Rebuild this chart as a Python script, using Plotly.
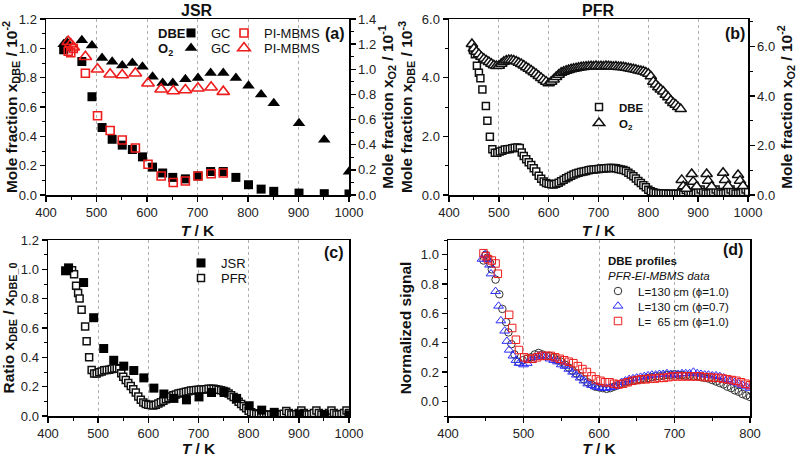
import plotly.graph_objects as go

W, H = 798, 457
FONT = "Liberation Sans, Arial, sans-serif"

# ---------------- Panel (a) JSR ----------------
T_jsr_gc = [435, 441, 471, 491, 511, 531, 551, 571, 591, 611,
            631, 651, 676, 701, 726, 751, 776, 801, 826, 851,
            901, 951, 1000]
dbe_jsr_gc = [0.99, 1.01, 0.91, 0.67, 0.46, 0.38, 0.34, 0.31, 0.26, 0.19,
              0.15, 0.12, 0.11, 0.13, 0.16, 0.16, 0.12, 0.07, 0.04, 0.025,
              0.013, 0.009, 0.007]
o2_jsr_gc = [1.20, 1.22, 1.23, 1.19, 1.09, 1.06, 1.03, 1.05, 1.02, 0.94,
             0.89, 0.89, 0.92, 0.93, 0.97, 0.97, 0.93, 0.87, 0.80, 0.73,
             0.57, 0.44, 0.185]
T_jsr_pi = [444, 449, 454, 478, 502, 527, 551, 577, 602, 628,
            652, 676, 701, 727, 751]
dbe_jsr_pi = [0.98, 0.97, 1.00, 0.83, 0.54, 0.44, 0.375, 0.32, 0.21, 0.13,
              0.085, 0.095, 0.13, 0.145, 0.15]
o2_jsr_pi = [1.22, 1.20, 1.175, 1.10, 1.00, 0.96, 0.955, 0.968, 0.889, 0.841,
             0.827, 0.835, 0.849, 0.857, 0.822]

# ---------------- Panel (b) PFR ----------------
T_pfr_dbe = [448, 452, 456, 460, 463, 467, 474, 477, 482, 487,
             492, 497, 502, 507, 512, 517, 522, 527, 532, 537,
             542, 546, 550, 555, 560, 565, 570, 575, 580, 585,
             590, 595, 600, 605, 610, 615, 620, 625, 630, 635,
             640, 645, 650, 655, 660, 665, 670, 675, 680, 685,
             690, 695, 700, 705, 710, 715, 720, 725, 730, 735,
             740, 745, 750, 755, 760, 765, 770, 775, 780, 785,
             790, 795, 800, 805, 810, 815, 820, 825, 830, 835,
             840, 845, 850, 855, 860, 865, 870, 875, 880, 885,
             890, 895, 900, 905, 910, 915, 920, 925, 930, 935,
             940, 945, 950, 955, 960, 965, 970, 975, 980, 985,
             990, 995, 1000]
dbe_pfr = [4.94, 4.80, 4.41, 4.17, 3.98, 3.60, 3.03, 2.53, 1.99, 1.56,
           1.44, 1.44, 1.48, 1.51, 1.55, 1.56, 1.57, 1.59, 1.61, 1.62,
           1.60, 1.45, 1.33, 1.22, 1.12, 1.02, 0.91, 0.80, 0.66, 0.55,
           0.46, 0.41, 0.38, 0.37, 0.36, 0.38, 0.42, 0.47, 0.52, 0.57,
           0.61, 0.66, 0.70, 0.73, 0.76, 0.78, 0.80, 0.82, 0.84, 0.86,
           0.87, 0.88, 0.89, 0.90, 0.90, 0.91, 0.92, 0.92, 0.92, 0.91,
           0.89, 0.87, 0.85, 0.82, 0.76, 0.70, 0.64, 0.56, 0.48, 0.41,
           0.33, 0.26, 0.18, 0.13, 0.09, 0.07, 0.06, 0.05, 0.05, 0.05,
           0.04, 0.04, 0.04, 0.04, 0.04, 0.05, 0.08, 0.17, 0.10, 0.05,
           0.05, 0.06, 0.10, 0.19, 0.10, 0.05, 0.05, 0.06, 0.10, 0.19,
           0.10, 0.05, 0.05, 0.06, 0.10, 0.19, 0.10, 0.05, 0.05, 0.06,
           0.10, 0.19, 0.10]
T_pfr_o2 = [446, 450, 455, 460, 465, 470, 475, 480, 485, 490,
            495, 500, 505, 510, 515, 520, 525, 530, 535, 540,
            545, 550, 555, 560, 565, 570, 575, 580, 585, 590,
            595, 600, 605, 610, 615, 620, 625, 630, 635, 640,
            645, 650, 655, 660, 665, 670, 675, 680, 685, 690,
            695, 700, 705, 710, 715, 720, 725, 730, 735, 740,
            745, 750, 755, 760, 765, 770, 775, 780, 785, 790,
            795, 800, 805, 810, 815, 820, 825, 830, 835, 840,
            845, 850, 855, 860, 865, 867, 870, 876, 887, 890,
            897, 917, 920, 927, 950, 954, 960, 980, 984, 990]
o2_pfr = [6.10, 5.92, 5.79, 5.69, 5.58, 5.50, 5.43, 5.37, 5.30, 5.24,
          5.21, 5.22, 5.30, 5.38, 5.43, 5.45, 5.45, 5.43, 5.39, 5.34,
          5.29, 5.23, 5.16, 5.10, 5.03, 4.96, 4.89, 4.81, 4.73, 4.65,
          4.58, 4.51, 4.58, 4.67, 4.77, 4.86, 4.94, 4.98, 5.02, 5.05,
          5.08, 5.10, 5.12, 5.14, 5.16, 5.17, 5.18, 5.19, 5.20, 5.19,
          5.21, 5.19, 5.20, 5.19, 5.21, 5.20, 5.19, 5.18, 5.19, 5.17,
          5.17, 5.16, 5.14, 5.12, 5.10, 5.08, 5.06, 5.03, 5.01, 4.99,
          4.95, 4.90, 4.80, 4.58, 4.46, 4.35, 4.26, 4.18, 4.05, 3.95,
          3.82, 3.72, 3.65, 3.55, 3.47, 0.61, 0.35, 0.25, 0.85, 0.54,
          0.34, 0.85, 0.58, 0.34, 0.90, 0.61, 0.36, 0.81, 0.58, 0.36]

# ---------------- Panel (c) ratios (x_DBE / x_DBE_0) ----------------
DBE0_JSR = 1.00   # inlet, 10^-2
DBE0_PFR = 4.97   # inlet, 10^-3
ratio_jsr = [v / DBE0_JSR for v in dbe_jsr_gc]
ratio_pfr = [v / DBE0_PFR for v in dbe_pfr]

# ---------------- Panel (d) normalized EI-MBMS signals ----------------
T_d130_10 = [447, 450, 452, 456, 458, 463, 468, 472, 477, 480,
             484, 488, 493, 499, 505, 510, 515, 520, 525, 530,
             535, 540, 545, 550, 555, 560, 565, 570, 575, 580,
             585, 590, 595, 600, 605, 610, 615, 620, 625, 630,
             635, 640, 645, 650, 655, 660, 665, 670, 675, 680,
             685, 690, 695, 700, 705, 710, 715, 720, 725, 730,
             735, 740, 745, 750, 755, 760, 765, 770, 775, 780,
             785, 790, 795, 800]
sig_d130_10 = [0.96, 1.00, 0.98, 0.94, 0.90, 0.83, 0.73, 0.63, 0.54, 0.47,
               0.39, 0.32, 0.27, 0.28, 0.29, 0.30, 0.32, 0.33, 0.32, 0.31,
               0.31, 0.30, 0.28, 0.27, 0.25, 0.23, 0.21, 0.19, 0.17, 0.15,
               0.13, 0.115, 0.10, 0.095, 0.09, 0.085, 0.09, 0.10, 0.11, 0.12,
               0.13, 0.135, 0.14, 0.145, 0.15, 0.155, 0.16, 0.165, 0.17, 0.17,
               0.175, 0.18, 0.18, 0.185, 0.18, 0.18, 0.175, 0.175, 0.17, 0.17,
               0.165, 0.16, 0.155, 0.145, 0.135, 0.125, 0.115, 0.10, 0.09, 0.075,
               0.065, 0.05, 0.04, 0.03]
T_d130_07 = [445, 449, 452, 455, 457, 463, 467, 470, 475, 478,
             481, 486, 490, 494, 500, 505, 510, 515, 520, 525,
             530, 535, 540, 545, 550, 555, 560, 565, 570, 575,
             580, 585, 590, 595, 600, 605, 610, 615, 620, 625,
             630, 635, 640, 645, 650, 655, 660, 665, 670, 675,
             680, 685, 690, 695, 700, 705, 710, 715, 720, 725,
             730, 735, 740, 745, 750, 755, 760, 765, 770, 775,
             780, 785, 790, 795, 800]
sig_d130_07 = [0.97, 1.00, 0.97, 0.93, 0.87, 0.75, 0.65, 0.55, 0.48, 0.41,
               0.35, 0.31, 0.28, 0.26, 0.25, 0.26, 0.28, 0.30, 0.31, 0.31,
               0.30, 0.29, 0.28, 0.27, 0.25, 0.24, 0.22, 0.20, 0.18, 0.16,
               0.14, 0.12, 0.11, 0.10, 0.095, 0.09, 0.09, 0.095, 0.10, 0.11,
               0.13, 0.14, 0.15, 0.155, 0.16, 0.165, 0.17, 0.175, 0.18, 0.18,
               0.185, 0.185, 0.19, 0.185, 0.18, 0.185, 0.19, 0.19, 0.19, 0.20,
               0.19, 0.185, 0.18, 0.18, 0.175, 0.175, 0.17, 0.16, 0.15, 0.14,
               0.13, 0.12, 0.11, 0.10, 0.09]
T_d65_10 = [447, 450, 453, 458, 463, 466, 481, 485, 490, 494,
            501, 506, 512, 518, 524, 530, 536, 542, 548, 554,
            560, 566, 572, 578, 584, 590, 596, 602, 608, 614,
            620, 626, 632, 638, 644, 650, 656, 662, 668, 674,
            680, 686, 692, 698, 704, 710, 716, 722, 728, 734,
            740, 746, 752, 758, 764, 770, 776, 782, 788, 794,
            800]
sig_d65_10 = [1.01, 0.99, 0.97, 0.96, 0.94, 0.87, 0.59, 0.50, 0.42, 0.35,
              0.30, 0.29, 0.29, 0.30, 0.31, 0.31, 0.31, 0.30, 0.29, 0.28,
              0.27, 0.26, 0.24, 0.22, 0.20, 0.17, 0.15, 0.14, 0.13, 0.13,
              0.12, 0.115, 0.12, 0.13, 0.14, 0.145, 0.15, 0.15, 0.155, 0.155,
              0.16, 0.16, 0.165, 0.17, 0.17, 0.17, 0.17, 0.17, 0.17, 0.17,
              0.165, 0.165, 0.16, 0.16, 0.155, 0.15, 0.145, 0.14, 0.13, 0.12,
              0.11]

RED = "#ee1c1c"
BLUE = "#2a2aff"

fig = go.Figure()

def px_x(x):
    return x / W

def px_y(y):
    return 1 - y / H

# legend slot helper (one legend per entry, placed at symbol centre in px)
legend_layouts = {}
_leg_count = [0]
SYM_OFF = 23

def new_legend(cx, cy, size=13):
    _leg_count[0] += 1
    n = _leg_count[0]
    name = "legend" if n == 1 else f"legend{n}"
    legend_layouts[name] = dict(
        x=px_x(cx - SYM_OFF), y=px_y(cy), xanchor="left", yanchor="middle",
        bgcolor="rgba(0,0,0,0)", borderwidth=0,
        font=dict(family=FONT, size=size, color="#111"),
        itemclick=False, itemdoubleclick=False, tracegroupgap=0,
    )
    return name

# Panel (a)
fig.add_trace(go.Scatter(x=T_jsr_gc, y=dbe_jsr_gc, mode="markers", name="GC",
                         xaxis="x", yaxis="y",
                         marker=dict(symbol="square", size=9, color="black"),
                         legend=new_legend(194, 33)))
fig.add_trace(go.Scatter(x=T_jsr_gc, y=o2_jsr_gc, mode="markers", name="GC",
                         xaxis="x", yaxis="y2",
                         marker=dict(symbol="triangle-up", size=11, color="black"),
                         legend=new_legend(194, 48)))
fig.add_trace(go.Scatter(x=T_jsr_pi, y=dbe_jsr_pi, mode="markers", name="PI-MBMS",
                         xaxis="x", yaxis="y",
                         marker=dict(symbol="square-open", size=8, color=RED,
                                     line=dict(width=1.6, color=RED)),
                         legend=new_legend(247, 33)))
fig.add_trace(go.Scatter(x=T_jsr_pi, y=o2_jsr_pi, mode="markers", name="PI-MBMS",
                         xaxis="x", yaxis="y2",
                         marker=dict(symbol="triangle-up-open", size=11, color=RED,
                                     line=dict(width=1.6, color=RED)),
                         legend=new_legend(247, 48)))

# Panel (b)
fig.add_trace(go.Scatter(x=T_pfr_dbe, y=dbe_pfr, mode="markers", name="<b>DBE</b>",
                         xaxis="x2", yaxis="y3",
                         marker=dict(symbol="square", size=7, color="white",
                                     line=dict(width=1.5, color="#111")),
                         legend=new_legend(602, 107, size=11.5)))
fig.add_trace(go.Scatter(x=T_pfr_o2, y=o2_pfr, mode="markers", name="<b>O<sub>2</sub></b>",
                         xaxis="x2", yaxis="y4",
                         marker=dict(symbol="triangle-up", size=10, color="white",
                                     line=dict(width=1.5, color="#111")),
                         legend=new_legend(602, 123, size=11.5)))

# Panel (c)
fig.add_trace(go.Scatter(x=T_pfr_dbe, y=ratio_pfr, mode="markers", name="PFR",
                         xaxis="x3", yaxis="y5",
                         marker=dict(symbol="square", size=7, color="white",
                                     line=dict(width=1.5, color="#111")),
                         legend=new_legend(204, 278)))
fig.add_trace(go.Scatter(x=T_jsr_gc, y=ratio_jsr, mode="markers", name="JSR",
                         xaxis="x3", yaxis="y5",
                         marker=dict(symbol="square", size=9, color="black"),
                         legend=new_legend(204, 263)))

# Panel (d)
fig.add_trace(go.Scatter(x=T_d130_10, y=sig_d130_10, mode="markers",
                         name="L=130 cm (\u03d5=1.0)", xaxis="x4", yaxis="y6",
                         marker=dict(symbol="circle-open", size=7.5, color="#333",
                                     line=dict(width=1, color="#333")),
                         legend=new_legend(621, 291, size=11.5)))
fig.add_trace(go.Scatter(x=T_d130_07, y=sig_d130_07, mode="markers",
                         name="L=130 cm (\u03d5=0.7)", xaxis="x4", yaxis="y6",
                         marker=dict(symbol="triangle-up-open", size=8.5, color=BLUE,
                                     line=dict(width=1, color=BLUE)),
                         legend=new_legend(621, 306, size=11.5)))
fig.add_trace(go.Scatter(x=T_d65_10, y=sig_d65_10, mode="markers",
                         name="L=  65 cm (\u03d5=1.0)", xaxis="x4", yaxis="y6",
                         marker=dict(symbol="square-open", size=7.5, color=RED,
                                     line=dict(width=1, color=RED)),
                         legend=new_legend(621, 321, size=11.5)))

# ---------------- axes ----------------
tickfont = dict(family=FONT, size=13, color="#222")
xtitlefont = dict(family=FONT, size=15.5, color="#111", weight="bold")
ytitlefont = dict(family=FONT, size=15.5, color="#111", weight="bold")

def xdom(x0, x1):
    return [px_x(x0), px_x(x1)]

def ydom(y_bottom, y_top):
    return [px_y(y_bottom), px_y(y_top)]

def xax(domain, anchor, rng, standoff):
    return dict(domain=domain, anchor=anchor, range=rng, dtick=100, tick0=0,
                automargin=False,
                showline=True, linecolor="black", linewidth=1.5, mirror=True,
                ticks="outside", ticklen=5, tickwidth=1.5, tickcolor="black",
                minor=dict(ticks="outside", ticklen=3, dtick=50, tickcolor="black", tickwidth=1),
                showgrid=True, gridcolor="#b0b0b0", griddash="dot", gridwidth=1,
                zeroline=False, tickfont=tickfont,
                title=dict(text="<i>T</i> / K", font=xtitlefont, standoff=standoff))

def yax(domain, anchor, rng, dtick, minor_dtick, title, side="left",
        overlaying=None, mirror=False, fmt=".1f", standoff=5):
    d = dict(anchor=anchor, range=rng, dtick=dtick, tick0=0, side=side,
             automargin=False,
             showline=True, linecolor="black", linewidth=1.5, mirror=mirror,
             ticks="outside", ticklen=5, tickwidth=1.5, tickcolor="black",
             minor=dict(ticks="outside", ticklen=3, dtick=minor_dtick,
                        tickcolor="black", tickwidth=1),
             showgrid=False, zeroline=False, tickfont=tickfont, tickformat=fmt,
             title=dict(text=title, font=ytitlefont, standoff=standoff))
    if overlaying:
        d["overlaying"] = overlaying
    else:
        d["domain"] = domain
    return d

TOP = ydom(195, 19)
BOT = ydom(416, 240)

layout = dict(
    width=W, height=H, margin=dict(l=0, r=0, t=0, b=0, autoexpand=False),
    paper_bgcolor="white", plot_bgcolor="white",
    font=dict(family=FONT, color="#111"),
    showlegend=True, hovermode=False,
    xaxis=xax(xdom(46, 349), "y", [400, 1000], 6),
    yaxis=yax(TOP, "x", [0, 1.2], 0.2, 0.1,
              "Mole fraction x<sub>DBE</sub> / 10<sup>-2</sup>"),
    yaxis2=yax(None, "x", [0, 1.4], 0.2, 0.1,
               "Mole fraction x<sub>O2</sub> / 10<sup>-1</sup>",
               side="right", overlaying="y"),
    xaxis2=xax(xdom(449, 748), "y3", [400, 1000], 6),
    yaxis3=yax(TOP, "x2", [0, 6], 2, 1,
               "Mole fraction x<sub>DBE</sub> / 10<sup>-3</sup>"),
    yaxis4=yax(None, "x2", [0, 7.11], 2, 1,
               "Mole fraction x<sub>O2</sub> / 10<sup>-2</sup>",
               side="right", overlaying="y3"),
    xaxis3=xax(xdom(48, 349), "y5", [400, 1000], 3),
    yaxis5=yax(BOT, "x3", [0, 1.2], 0.2, 0.1,
               "Ratio x<sub>DBE</sub> / x<sub>DBE_0</sub>", mirror=True),
    xaxis4=xax(xdom(448, 750), "y6", [400, 800], 3),
    yaxis6=yax(BOT, "x4", [-0.1, 1.1], 0.2, 0.1, "Normalized signal", mirror=True),
)
layout.update(legend_layouts)

def ann(text, cx, cy, size=15, bold=True, italic=False, xanchor="center"):
    return dict(text=text, x=px_x(cx), y=px_y(cy), xref="paper", yref="paper",
                xanchor=xanchor, yanchor="middle", showarrow=False,
                font=dict(family=FONT, size=size, color="#111",
                          weight="bold" if bold else "normal",
                          style="italic" if italic else "normal"))

layout["annotations"] = [
    ann("JSR", 197, 10, size=16),
    ann("PFR", 598, 10, size=16),
    ann("(a)", 335, 33, size=16),
    ann("(b)", 735, 33, size=16),
    ann("(c)", 334, 253, size=16),
    ann("(d)", 733, 250, size=16),
    ann("DBE", 156, 33, size=13, xanchor="left"),
    ann("O<sub>2</sub>", 156, 49, size=13, xanchor="left"),
    ann("DBE profiles", 606, 261, size=11.5, xanchor="left"),
    ann("PFR-EI-MBMS data", 606, 276, size=11.5, bold=False, italic=True, xanchor="left"),
]

fig.update_layout(layout)
# page body carries a default 8 px margin; remove it so the figure fills the window
fig.write_html("out.html",
               config={"displayModeBar": False, "staticPlot": True},
               post_script="document.body.style.margin='0px';document.body.style.overflow='hidden';")
